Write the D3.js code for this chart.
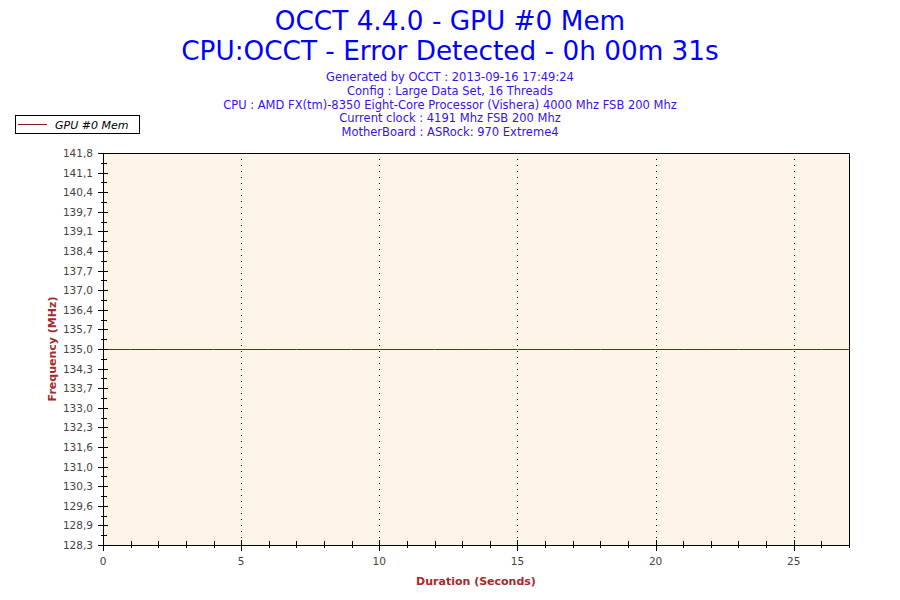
<!DOCTYPE html>
<html><head><meta charset="utf-8">
<script src="https://cdn.jsdelivr.net/npm/d3@7"></script>
<style>body{margin:0;background:#fff}svg{display:block}</style>
</head><body><svg id="c" width="900" height="600"></svg>
<script>
const titleLines = ["OCCT 4.4.0 - GPU #0 Mem", "CPU:OCCT - Error Detected - 0h 00m 31s"];
const infoLines = ["Generated by OCCT : 2013-09-16 17:49:24", "Config : Large Data Set, 16 Threads",
  "CPU : AMD FX(tm)-8350 Eight-Core Processor (Vishera) 4000 Mhz FSB 200 Mhz",
  "Current clock : 4191 Mhz FSB 200 Mhz", "MotherBoard : ASRock: 970 Extreme4"];
const seriesName = "GPU #0 Mem";
const times = [0,1,2,3,4,5,6,7,8,9,10,11,12,13,14,15,16,17,18,19,20,21,22,23,24,25,26,27];
const values = [135,135,135,135,135,135,135,135,135,135,135,135,135,135,135,135,135,135,135,135,135,135,135,135,135,135,135,135];
const xTicks = [0,5,10,15,20,25];
const yMin = 128.25, yMax = 141.75, yStep = 0.675;
const xLabel = "Duration (Seconds)", yLabel = "Frequency (MHz)";

const svg = d3.select("#c");
const L = 103, R = 849, T = 153, B = 545;
const x = d3.scaleLinear().domain([0, 27]).range([L, R]);
const y = d3.scaleLinear().domain([yMin, yMax]).range([B, T]);
const font = "Tahoma, 'DejaVu Sans', Verdana, sans-serif";

svg.selectAll("text.title").data(titleLines).join("text")
  .attr("x", 450).attr("y", (d,i)=>30+i*30).attr("text-anchor","middle")
  .attr("font-family", font).attr("font-size", 26.3).attr("fill", "#0000ff").text(d=>d);
svg.selectAll("text.info").data(infoLines).join("text")
  .attr("x", 450).attr("y", (d,i)=>81+i*13.8).attr("text-anchor","middle")
  .attr("font-family", font).attr("font-size", 11.5).attr("fill", "#3a10f0").text(d=>d);

// legend
const lg = svg.append("g");
lg.append("rect").attr("x",15.5).attr("y",115.5).attr("width",124).attr("height",18).attr("fill","#fff").attr("stroke","#000");
lg.append("line").attr("x1",18).attr("x2",47).attr("y1",124.5).attr("y2",124.5).attr("stroke","#8b1a1a");
lg.append("text").attr("x",55).attr("y",128.5).attr("font-family",font).attr("font-size",11).attr("font-style","italic").attr("fill","#000").text(seriesName);

// plot bg
svg.append("rect").attr("x",L).attr("y",T).attr("width",R-L).attr("height",B-T).attr("fill","#fdf6e8");

// grid
svg.selectAll("line.grid").data(xTicks.filter(d=>d>0)).join("line")
  .attr("x1",d=>Math.round(x(d))+0.5).attr("x2",d=>Math.round(x(d))+0.5).attr("y1",T).attr("y2",B)
  .attr("stroke","#000").attr("stroke-dasharray","1,5");

// series
svg.append("path").datum(times.map((t,i)=>[t,values[i]]))
  .attr("d", d3.line().x(d=>x(d[0])).y(d=>Math.round(y(d[1]))+0.5))
  .attr("fill","none").attr("stroke","#8b1a1a").attr("stroke-width",1);

// border
svg.append("path").attr("d",`M${L+0.5},${B+0.5}V${T+0.5}H${R+0.5}V${B+0.5}Z`).attr("fill","none").attr("stroke","#000");

// y axis ticks
const yT = d3.range(0,21).map(k=>yMin+k*yStep);
const yMinor = d3.range(0,20).map(k=>yMin+(k+0.5)*yStep);
const fmt = v => (Math.round(v*10)/10).toFixed(1).replace(".",",");
svg.selectAll("line.yt").data(yT).join("line")
  .attr("x1",L-5).attr("x2",L+5).attr("y1",d=>Math.round(y(d))+0.5).attr("y2",d=>Math.round(y(d))+0.5).attr("stroke","#000");
svg.selectAll("line.ym").data(yMinor).join("line")
  .attr("x1",L-2).attr("x2",L+4).attr("y1",d=>Math.round(y(d))+0.5).attr("y2",d=>Math.round(y(d))+0.5).attr("stroke","#000");
svg.selectAll("text.yl").data(yT).join("text")
  .attr("x",L-10).attr("y",d=>y(d)+4).attr("text-anchor","end")
  .attr("font-family",font).attr("font-size",10.5).attr("fill","#444").text(fmt);

// x axis ticks
const xMinor = d3.range(1,28).filter(d=>d%5!==0);
svg.selectAll("line.xt").data(xTicks).join("line")
  .attr("x1",d=>Math.round(x(d))+0.5).attr("x2",d=>Math.round(x(d))+0.5).attr("y1",B-5).attr("y2",B+6).attr("stroke","#000");
svg.selectAll("line.xm").data(xMinor).join("line")
  .attr("x1",d=>Math.round(x(d))+0.5).attr("x2",d=>Math.round(x(d))+0.5).attr("y1",B-4).attr("y2",B+3).attr("stroke","#000");
svg.selectAll("text.xl").data(xTicks).join("text")
  .attr("x",d=>x(d)).attr("y",B+20).attr("text-anchor","middle")
  .attr("font-family",font).attr("font-size",10.5).attr("fill","#444").text(d=>d);

// axis titles
svg.append("text").attr("x",476).attr("y",585).attr("text-anchor","middle")
  .attr("font-family",font).attr("font-size",11).attr("font-weight","bold").attr("fill","#a52a2a").text(xLabel);
svg.append("text").attr("transform","translate(56,349) rotate(-90)").attr("text-anchor","middle")
  .attr("font-family",font).attr("font-size",11).attr("font-weight","bold").attr("fill","#a52a2a").text(yLabel);
</script></body></html>
